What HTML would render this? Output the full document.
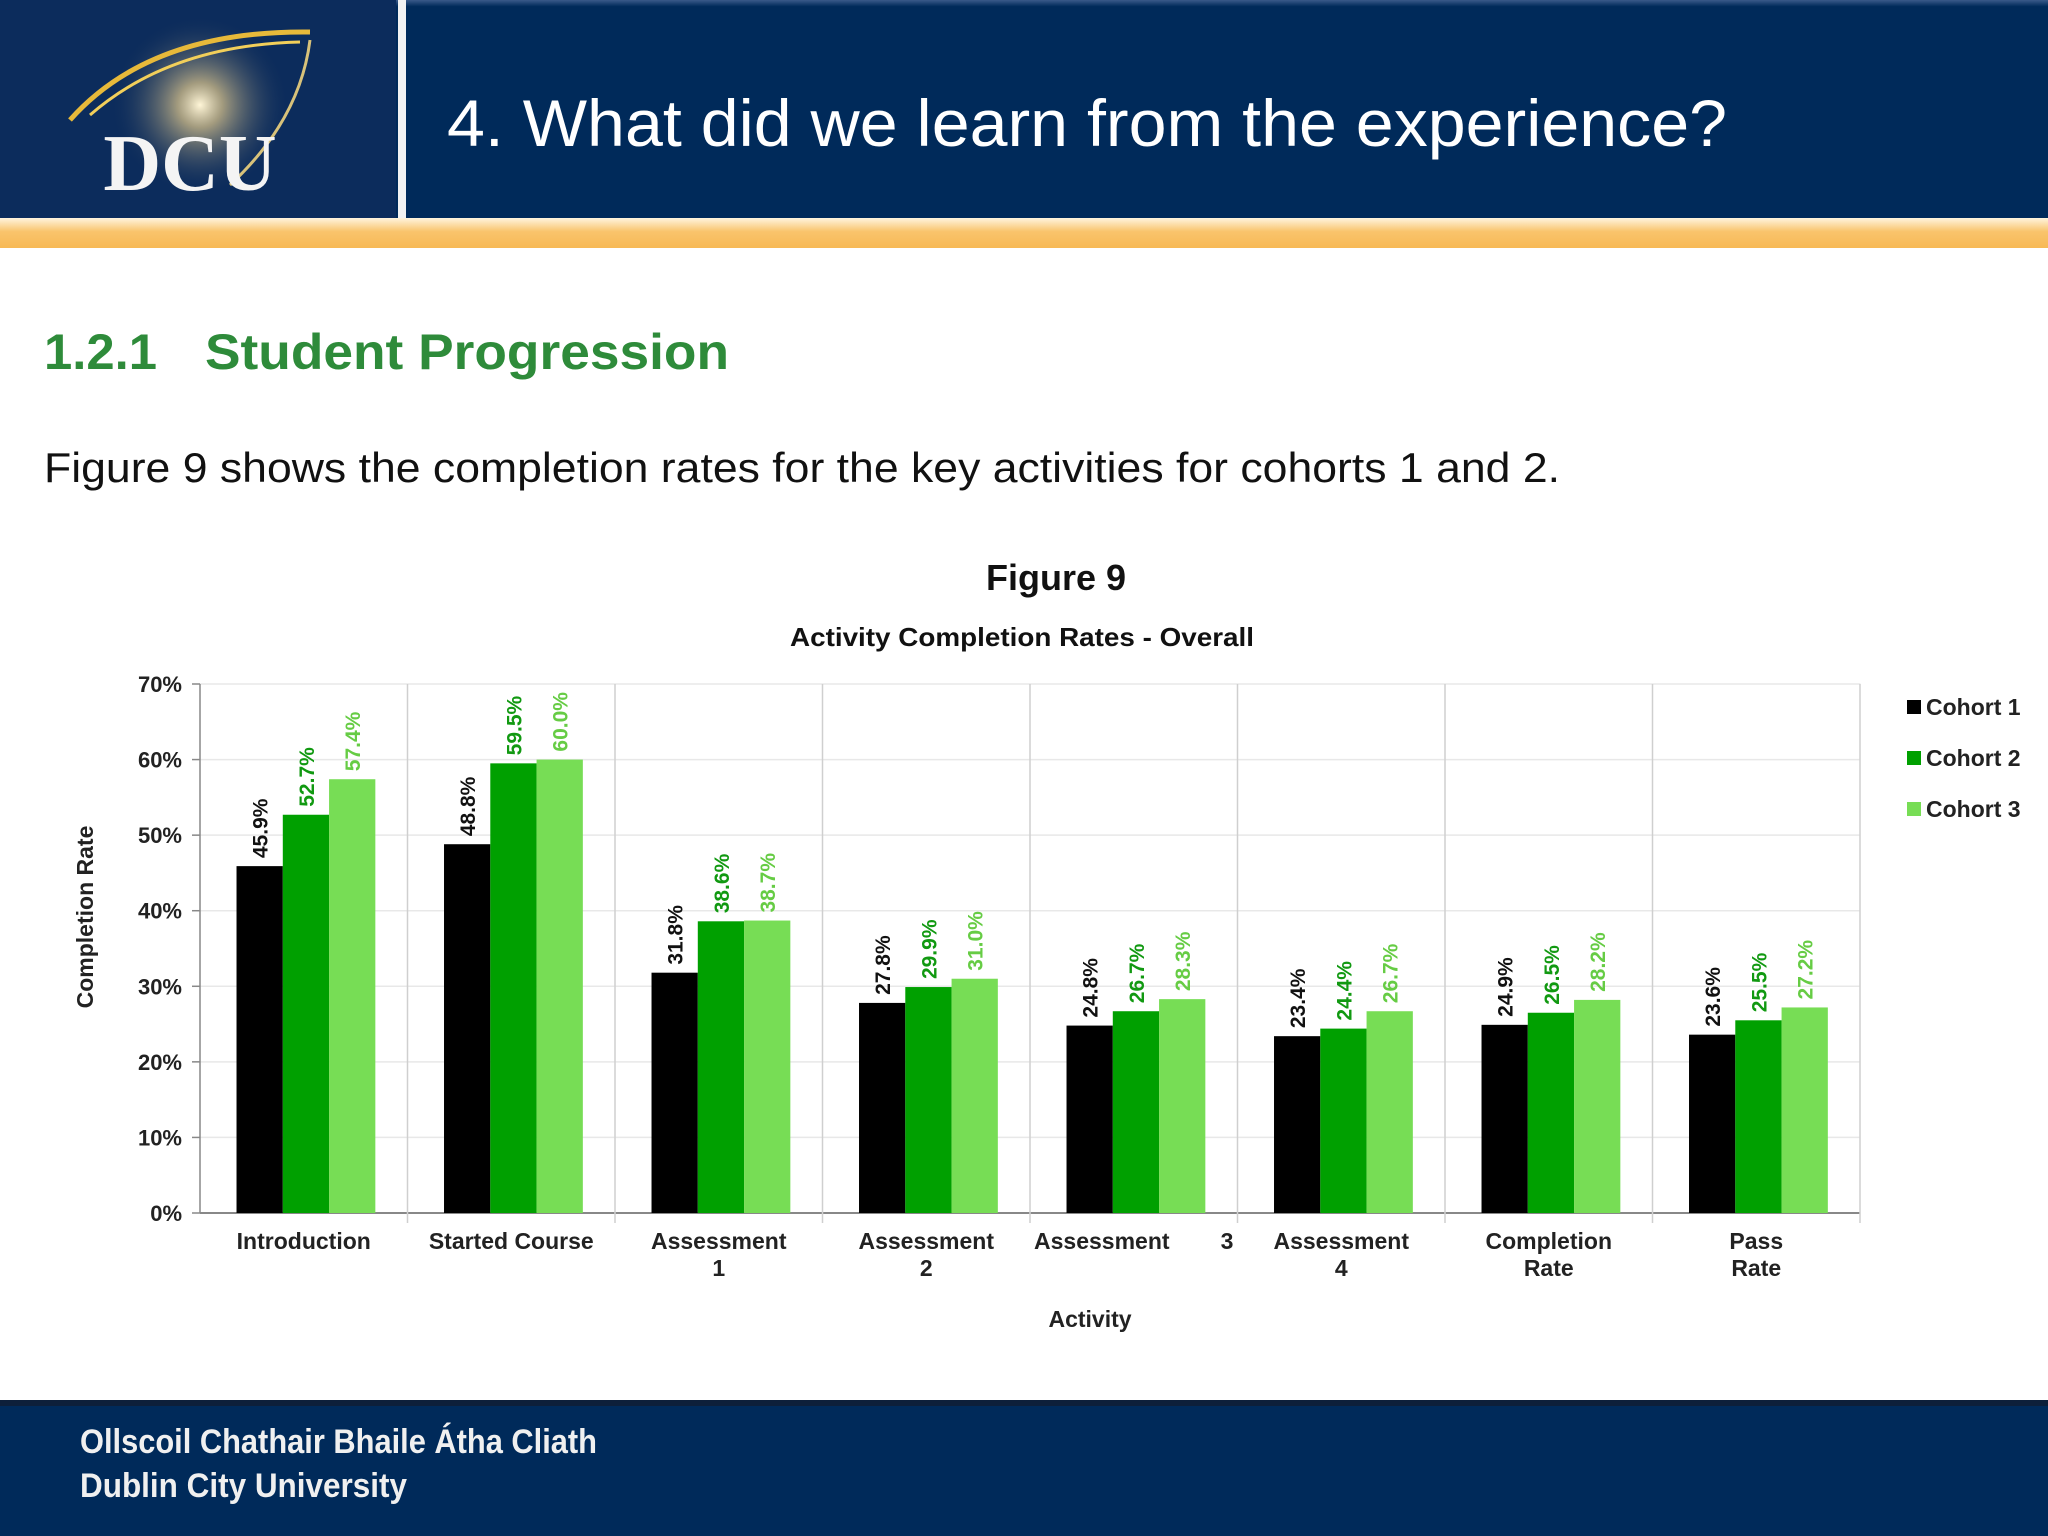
<!DOCTYPE html>
<html><head><meta charset="utf-8"><style>
html,body{margin:0;padding:0;background:#fff;}
svg{display:block;font-family:"Liberation Sans",sans-serif;}
</style></head><body>
<svg id="s" width="2048" height="1536" viewBox="0 0 2048 1536">
<defs>
<linearGradient id="og" x1="0" y1="0" x2="0" y2="1"><stop offset="0" stop-color="#fff4de"/><stop offset="0.45" stop-color="#f9c46c"/><stop offset="1" stop-color="#f7b955"/></linearGradient>
<radialGradient id="glow" cx="0.5" cy="0.5" r="0.5"><stop offset="0" stop-color="#fff6d8"/><stop offset="0.25" stop-color="#c9b787" stop-opacity="0.8"/><stop offset="1" stop-color="#0b2a5a" stop-opacity="0"/></radialGradient>
<linearGradient id="hdr" x1="0" y1="0" x2="0" y2="1"><stop offset="0" stop-color="#3a5a8a"/><stop offset="0.03" stop-color="#002a5a"/><stop offset="1" stop-color="#002a5a"/></linearGradient>
</defs>
<rect x="0" y="0" width="2048" height="218" fill="url(#hdr)"/>
<g>
<rect x="0" y="0" width="396" height="218" fill="#0c2c5c"/>
<circle cx="200" cy="105" r="90" fill="url(#glow)"/>
<path d="M70 120 Q150 30 310 32" stroke="#e7b93a" stroke-width="5" fill="none"/>
<path d="M90 115 Q170 45 300 42" stroke="#f2cf5a" stroke-width="3" fill="none"/>
<path d="M310 40 Q300 120 230 185" stroke="#d8c27a" stroke-width="3" fill="none"/>
<text x="190" y="190" text-anchor="middle" font-family="Liberation Serif,serif" font-weight="bold" font-size="80" fill="#f4f4f4">DCU</text>
</g>
<rect x="398" y="0" width="8" height="218" fill="#f2f2f2"/>
<text x="447" y="146" font-size="66" fill="#fff" textLength="1280" lengthAdjust="spacingAndGlyphs">4. What did we learn from the experience?</text>
<rect x="0" y="218" width="2048" height="30" fill="url(#og)"/>
<g>
<text x="44" y="369" font-size="50" font-weight="bold" fill="#2e8b3a" textLength="113" lengthAdjust="spacingAndGlyphs">1.2.1</text>
<text x="205" y="369" font-size="50" font-weight="bold" fill="#2e8b3a" textLength="524" lengthAdjust="spacingAndGlyphs">Student Progression</text>
</g>
<text x="44" y="482" font-size="42" fill="#111" textLength="1516" lengthAdjust="spacingAndGlyphs">Figure 9 shows the completion rates for the key activities for cohorts 1 and 2.</text>
<text x="1056" y="590" text-anchor="middle" font-size="36" font-weight="bold" fill="#111">Figure 9</text>
<text x="790" y="646" font-size="26" font-weight="bold" fill="#111" textLength="464" lengthAdjust="spacingAndGlyphs">Activity Completion Rates - Overall</text>
<g id="chart"></g>
<g>
<rect x="0" y="1400" width="2048" height="136" fill="#002a5a"/>
<rect x="0" y="1400" width="2048" height="6" fill="#0d1f3a"/>
<text x="80" y="1453" font-size="34" font-weight="bold" fill="#f0f0f0" textLength="517" lengthAdjust="spacingAndGlyphs">Ollscoil Chathair Bhaile Átha Cliath</text>
<text x="80" y="1497" font-size="34" font-weight="bold" fill="#f0f0f0" textLength="327" lengthAdjust="spacingAndGlyphs">Dublin City University</text>
</g>
</svg>
<script>
const categories=[["Introduction"],["Started Course"],["Assessment","1"],["Assessment","2"],["Assessment        3"],["Assessment","4"],["Completion","Rate"],["Pass","Rate"]];
const cohort1=[45.9,48.8,31.8,27.8,24.8,23.4,24.9,23.6];
const cohort2=[52.7,59.5,38.6,29.9,26.7,24.4,26.5,25.5];
const cohort3=[57.4,60.0,38.7,31.0,28.3,26.7,28.2,27.2];
const seriesNames=["Cohort 1","Cohort 2","Cohort 3"];
const yTicks=[0,10,20,30,40,50,60,70];
const NS="http://www.w3.org/2000/svg";
const g=document.getElementById("chart");
const L=200,R=1860,T=684,B=1213,yMax=70;
const y=v=>B-(v/yMax)*(B-T);
const gw=(R-L)/categories.length;
const x=(i,s)=>L+i*gw+gw*0.176+s*gw*0.223;
const bw=gw*0.223;
function el(t,a,txt){const e=document.createElementNS(NS,t);for(const k in a)e.setAttribute(k,a[k]);if(txt!==undefined)e.textContent=txt;g.appendChild(e);return e;}
const plotBg=el("rect",{x:L,y:T,width:R-L,height:B-T,fill:"#fff",stroke:"#e4e4e4"});


yTicks.forEach(t=>{
 const ln=el("line",{x1:L,x2:R,y1:y(t),y2:y(t),stroke:t===0?"#888":"#e8e8e8","stroke-width":t===0?2:1.5});
 
 
 const tk=el("line",{x1:L-8,x2:L,y1:y(t),y2:y(t),stroke:"#888","stroke-width":1.5});
 
 
 const lb=el("text",{x:L-18,y:y(t)+8,"text-anchor":"end","font-size":22,"font-weight":"bold",fill:"#222"},t+"%");
 
 
});
const ax=el("line",{x1:L,x2:L,y1:T,y2:B,stroke:"#888","stroke-width":1.5});


for(let i=1;i<=categories.length;i++){
 const sep=el("line",{x1:L+i*gw,x2:L+i*gw,y1:T,y2:B+10,stroke:"#cfcfcf","stroke-width":1.5});
 
 
}
const series=[cohort1,cohort2,cohort3];
const fills=["#000000","#00a000","#77dd55"];
const lcols=["#111111","#119911","#66cc44"];
series.forEach((vals,s)=>{
 vals.forEach((v,i)=>{
  const r=el("rect",{x:x(i,s),y:y(v),width:bw,height:B-y(v),fill:fills[s]});
  
  
  const cx=x(i,s)+bw/2+8,cy=y(v)-8;
  const t=el("text",{x:cx,y:cy,transform:`rotate(-90 ${cx} ${cy})`,"font-size":21,"font-weight":"bold",fill:lcols[s]},v.toFixed(1)+"%");
  
  
 });
});
categories.forEach((c,i)=>{
 const cx=L+(i+0.5)*gw;
 c.forEach((line,j)=>{
  const t=el("text",{x:cx,y:1249+j*27,"text-anchor":"middle","font-size":23,"font-weight":"bold",fill:"#222","xml:space":"preserve",style:"white-space:pre"},line);
  
  
 });
});
const xt=el("text",{x:1090,y:1327,"text-anchor":"middle","font-size":23,"font-weight":"bold",fill:"#222"},"Activity");


const yt=el("text",{x:93,y:917,transform:"rotate(-90 93 917)","text-anchor":"middle","font-size":23,"font-weight":"bold",fill:"#222"},"Completion Rate");


seriesNames.forEach((n,s)=>{
 const yy=707+s*51;
 const sq=el("rect",{x:1907,y:yy-7,width:14,height:14,fill:fills[s]});
 
 
 const t=el("text",{x:1926,y:yy+8,"font-size":23,"font-weight":"bold",fill:"#222"},n);
 
 
});
</script>
</body></html>
